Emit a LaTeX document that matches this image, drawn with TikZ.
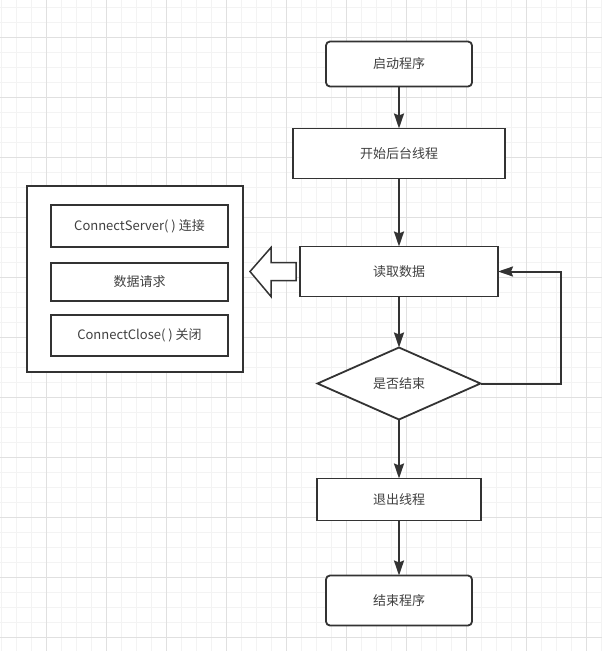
\documentclass[tikz,border=0pt]{standalone}
\usepackage{fontspec}
\newfontfamily\cjk{Noto Sans CJK SC}
\usetikzlibrary{shapes.geometric, arrows.meta, positioning, calc}
\definecolor{linegray}{RGB}{51, 51, 51}
\definecolor{textgray}{RGB}{64, 64, 64}
\definecolor{gridminor}{RGB}{243, 243, 243}
\definecolor{gridmajor}{RGB}{224, 224, 224}

\begin{document}
\begin{tikzpicture}[
    x=1pt, y=-1pt,
    base/.style={draw=linegray, line width=1.8pt, fill=white, text=textgray, inner sep=0pt, outer sep=0pt, font=\cjk\fontsize{13}{15}\selectfont},
    terminal/.style={base, rectangle, rounded corners=4pt, minimum width=146pt, minimum height=45pt},
    process/.style={base, rectangle, minimum width=198pt, minimum height=50pt},
    decision/.style={base, diamond, aspect=2.26, minimum width=163pt, minimum height=72pt},
    item/.style={base, rectangle, minimum width=177pt, minimum height=40pt},
    arrow/.style={line width=2pt, draw=linegray, -{Stealth[length=15pt, width=10pt, inset=2pt]}}
]

% background grid
\useasboundingbox (0,0) rectangle (602,651);
\fill [white] (0,0) rectangle (602,651);
\foreach \i in {0,...,40} \draw [gridminor, line width=0.8pt] ({1.7+15*\i},0) -- ++(0,651);
\foreach \i in {0,...,43} \draw [gridminor, line width=0.8pt] (0,{7+15*\i}) -- ++(602,0);
\foreach \i in {0,...,9} \draw [gridmajor, line width=0.8pt] ({46.7+60*\i},0) -- ++(0,651);
\foreach \i in {0,...,10} \draw [gridmajor, line width=0.8pt] (0,{37+60*\i}) -- ++(602,0);

\node (start_prog) [terminal] at (399,64) {启动程序};
\node (bg_thread) [process, minimum width=212pt, below=42pt of start_prog] {开始后台线程};
\node (read_data) [process, below=68pt of bg_thread] {读取数据};
\node (is_end) [decision, below=51pt of read_data] {是否结束};
\node (exit_thread) [process, minimum width=164pt, minimum height=42pt, below=59pt of is_end] {退出线程};
\node (end_prog) [terminal, minimum height=50pt, below=55pt of exit_thread] {结束程序};

\draw [arrow] (start_prog) -- (bg_thread);
\draw [arrow] (bg_thread) -- (read_data);
\draw [arrow] (read_data) -- (is_end);
\draw [arrow] (is_end) -- (exit_thread);
\draw [arrow] (exit_thread) -- (end_prog);
\draw [arrow] (is_end.east) -- ++(80,0) |- (read_data.east);

% request steps
\node (steps) [base, minimum width=216pt, minimum height=186pt] at (135,279) {};
\node (connect) [item, minimum height=42pt] at (139.5,226) {ConnectServer( ) 连接};
\node (request) [item, minimum height=38pt, below=16pt of connect] {数据请求};
\node (close) [item, minimum height=41pt, below=14pt of request] {ConnectClose( ) 关闭};

\draw [line width=1.5pt, draw=linegray, fill=white]
    ($(read_data.west)+(-4,-9)$) -- ++(-25,0) -- ++(0,-15) -- ++(-21,24)
    -- ++(21,25) -- ++(0,-16) -- ++(25,0) -- cycle;

\end{tikzpicture}
\end{document}
